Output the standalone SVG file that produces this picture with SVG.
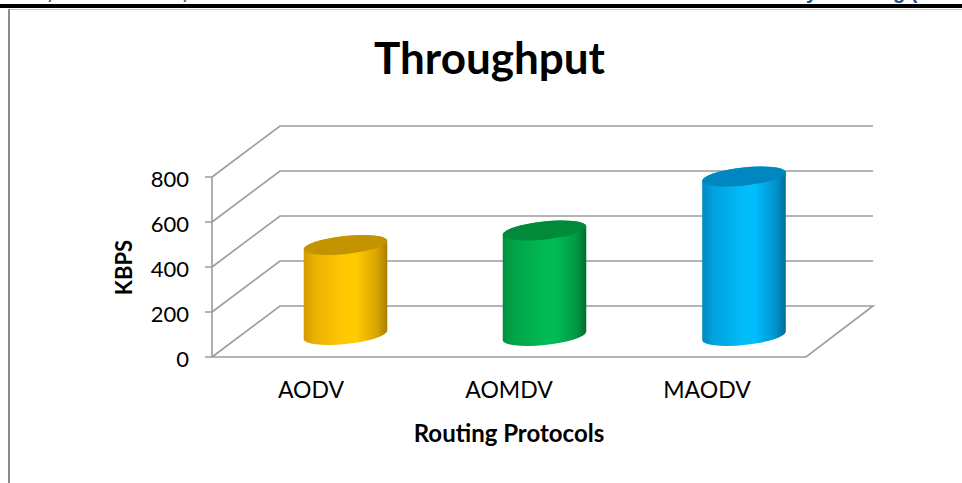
<svg xmlns="http://www.w3.org/2000/svg" width="962" height="483" viewBox="0 0 962 483">
<style>
.grid{stroke:#9c9c9c;stroke-width:1.6;fill:none}
.tick{font-family:Lato,"Liberation Sans",sans-serif;font-size:22px;fill:#000;text-anchor:end}
.cat{font-family:Lato,"Liberation Sans",sans-serif;font-size:23px;fill:#000;text-anchor:middle}
.bold{font-family:Lato,"Liberation Sans",sans-serif;font-weight:bold;fill:#000;text-anchor:middle}
.cut{font-family:"Liberation Sans",sans-serif;font-weight:bold;font-size:20px;fill:#1F4E8C}
</style>
<defs>
<linearGradient id="gy" x1="0" x2="1" y1="0" y2="0">
<stop offset="0" stop-color="#D29A00"/><stop offset="0.12" stop-color="#E8B000"/><stop offset="0.45" stop-color="#FFC600"/><stop offset="0.62" stop-color="#FFCC00"/><stop offset="0.88" stop-color="#D9A400"/><stop offset="1" stop-color="#A87E00"/>
</linearGradient>
<linearGradient id="gg" x1="0" x2="1" y1="0" y2="0">
<stop offset="0" stop-color="#008F3E"/><stop offset="0.12" stop-color="#00A349"/><stop offset="0.45" stop-color="#00B752"/><stop offset="0.62" stop-color="#00BC55"/><stop offset="0.88" stop-color="#009A44"/><stop offset="1" stop-color="#006E2F"/>
</linearGradient>
<linearGradient id="gb" x1="0" x2="1" y1="0" y2="0">
<stop offset="0" stop-color="#0088C2"/><stop offset="0.12" stop-color="#00A0DC"/><stop offset="0.45" stop-color="#00BAF5"/><stop offset="0.62" stop-color="#00BFFF"/><stop offset="0.88" stop-color="#0094CC"/><stop offset="1" stop-color="#006C99"/>
</linearGradient>
</defs>
<rect width="962" height="483" fill="#fff"/>
<g id="page-edge">
<text class="cut" x="47" y="-1">,</text>
<text class="cut" x="182" y="-1">,</text>
<text class="cut" x="806" y="-1">y</text>
<text class="cut" x="893" y="-1">g (</text>
<rect x="0" y="4" width="962" height="4" fill="#000"/>
<line x1="9" y1="9.5" x2="962" y2="9.5" stroke="#c8c8c8" stroke-width="1"/>
<line x1="9" y1="9" x2="9" y2="483" stroke="#8c8c8c" stroke-width="2"/>
</g>
<g id="title"><text class="bold" x="489.5" y="74" font-size="44">Throughput</text></g>
<g id="connectors">
<path class="grid" d="M212,177 L280,126 L873,126 M212,222 L280,171 L873,171 M212,267 L280,216 L873,216 M212,312 L280,261 L873,261 M212,357 L280,306 L873,306 L806,357 L212,357"/>
<path class="grid" d="M212,177 L212,357 M205,177 L212,177 M205,222 L212,222 M205,267 L212,267 M205,312 L212,312 M205,357 L212,357"/>
</g>
<g id="y-axis-labels">
<text class="tick" x="189" y="187">800</text>
<text class="tick" x="189" y="232">600</text>
<text class="tick" x="189" y="277">400</text>
<text class="tick" x="189" y="322">200</text>
<text class="tick" x="189" y="367">0</text>
<text class="bold" font-size="22" transform="translate(132,267.5) rotate(-90)">KBPS</text>
</g>
<g id="bar-aodv">
<path fill="url(#gy)" d="M303.72,249.19 L303.72,339.19 A42 9 -6 0 0 387.28,330.81 L387.28,240.81 A42 9 -6 0 0 303.72,249.19 Z"/>
<ellipse cx="345.5" cy="245" rx="42" ry="9" fill="#C49400" transform="rotate(-6 345.5 245)"/>
</g>
<g id="bar-aomdv">
<path fill="url(#gg)" d="M502.72,234.69 L502.72,340.19 A42 9 -6 0 0 586.28,331.81 L586.28,226.31 A42 9 -6 0 0 502.72,234.69 Z"/>
<ellipse cx="544.5" cy="230.5" rx="42" ry="9" fill="#008A3A" transform="rotate(-6 544.5 230.5)"/>
</g>
<g id="bar-maodv">
<path fill="url(#gb)" d="M702.22,180.69 L702.22,340.19 A42 9 -6 0 0 785.78,331.81 L785.78,172.31 A42 9 -6 0 0 702.22,180.69 Z"/>
<ellipse cx="744" cy="176.5" rx="42" ry="9" fill="#0087BF" transform="rotate(-6 744 176.5)"/>
</g>
<g id="x-axis-labels">
<text class="cat" x="311" y="398">AODV</text>
<text class="cat" x="509" y="398">AOMDV</text>
<text class="cat" x="707" y="398">MAODV</text>
<text class="bold" font-size="24" x="509" y="442">Routing Protocols</text>
</g>
</svg>
